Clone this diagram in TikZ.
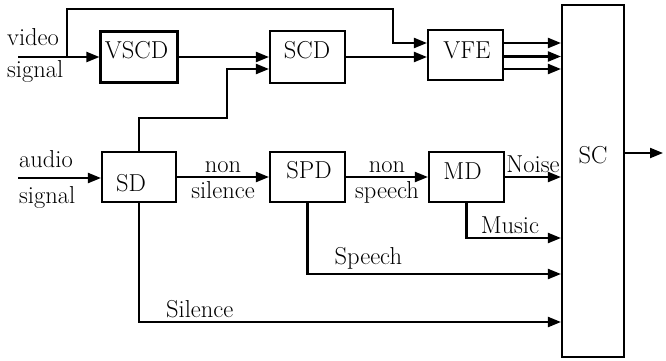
\documentclass[tikz,border=0pt]{standalone}
\usepackage{fontspec}
\usetikzlibrary{arrows.meta,calc}
\tikzset{
  blk/.style={draw,line width=2.1pt,inner sep=0pt},
  arr/.style={line width=2.1pt,-{Triangle[length=13pt,width=10pt]}},
  txt/.style={inner sep=0pt,anchor=base west}
}
\begin{document}
\begin{tikzpicture}[x=1pt,y=-1pt,font=\fontsize{24.5}{29}\selectfont]
        \useasboundingbox (0,0) rectangle (666,360);
        % blocks
        \node[blk,minimum width=77pt,minimum height=51pt] (vscd) at (139,57) {};
        \node[blk,minimum width=75pt,minimum height=52pt] (scd) at (307.5,57) {};
        \node[blk,minimum width=75pt,minimum height=50pt] (vfe) at (465.5,55) {};
        \node[blk,minimum width=74pt,minimum height=50pt] (sd) at (139,177) {};
        \node[blk,minimum width=75pt,minimum height=50pt] (spd) at (307.5,177) {};
        \node[blk,minimum width=75pt,minimum height=50pt] (md) at (466.5,177) {};
        \node[blk,minimum width=62pt,minimum height=352pt] (sc) at (593,181) {};
        \node (vscdt) at (136.5,50) {VSCD};
        \node (scdt) at (307,50) {SCD};
        \node (vfet) at (467,50) {VFE};
        \node (sdt) at (131,183) {SD};
        \node (spdt) at (309,170.5) {SPD};
        \node (mdt) at (462.5,171) {MD};
        \node (sct) at (593,155) {SC};
        % inputs
        \node[txt] (video) at (7,45) {video};
        \node[txt] (vsig) at (7,77) {signal};
        \node[txt] (audio) at (19,167) {audio};
        \node[txt] (asig) at (19,203) {signal};
        \coordinate (vin) at (18,57);
        \coordinate (vbr) at (67,57);
        \coordinate (vtop) at (393,9);
        \coordinate (ain) at (18,178);
        \coordinate (sdup) at (227,118);
        \coordinate (out) at (663,153);
        % video path
        \draw[arr] (vin) -- (vin -| vscd.west);
        \draw[arr] (vbr) |- (vtop) |- ($(vfe.west)+(0,-12)$);
        \draw[arr] (vscd.east) -- (vscd.east -| scd.west);
        \draw[arr] (scd.east) -- (scd.east -| vfe.west);
        \foreach \dy in {-12,1.5,14}
          \draw[arr] ($(vfe.east)+(0,\dy)$) -- ($(vfe.east -| sc.west)+(0,\dy)$);
        \draw[arr] (sd.north) |- (sdup) |- ($(scd.west)+(0,12)$);
        % audio path
        \draw[arr] (ain) -- (ain -| sd.west);
        \draw[arr] (sd.east) -- (spd.west)
          node[midway,above] (non1) {non}
          node[midway,below] (sil1) {silence};
        \draw[arr] (spd.east) -- (md.west)
          node[midway,above] (non2) {non}
          node[midway,below] (spe1) {speech};
        \draw[arr] (md.east) -- (md.east -| sc.west)
          node[midway,above] (noise) {Noise};
        \draw[arr] (md.south) |- (sc.west |- 0,238)
          node[pos=0.73,above] (music) {Music};
        \draw[arr] (spd.south) |- (sc.west |- 0,274)
          node[pos=0.62,above] (speech) {Speech};
        \draw[arr] (sd.south) |- (sc.west |- 0,322)
          node[pos=0.572,above] (silence) {Silence};
        \draw[arr] (sc.east |- out) -- (out);
    \end{tikzpicture}
\end{document}
